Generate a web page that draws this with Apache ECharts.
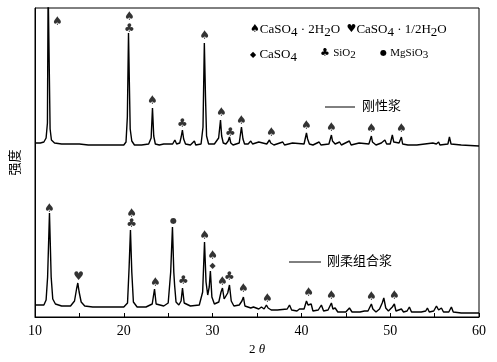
<!DOCTYPE html>
<html><head><meta charset="utf-8">
<script src="https://cdn.jsdelivr.net/npm/echarts@6/dist/echarts.min.js"></script>
<style>html,body{margin:0;padding:0;background:#fff}#c{width:497px;height:362px}</style>
</head><body><div id="c"></div>
<script>
// x-axis tick labels
const xTicks = [10, 20, 30, 40, 50, 60];
// Upper trace: 刚性浆  [2θ, intensity]
const rigid = [[10.0,174],[10.6,174],[11.0,175],[11.25,179],[11.4,194],[11.48,330],[11.6,330],[11.7,188],[11.85,177],[12.2,174],[13,173],[14,173],[15,173],[16,172],[17,172],[18,172],[19,172],[20,172],[20.25,175],[20.4,200],[20.53,284],[20.63,232],[20.72,188],[20.9,176],[21.2,172],[22,172],[22.8,173],[23.08,179],[23.23,209],[23.37,181],[23.55,173],[24,172],[24.5,173],[25.5,173],[25.75,177],[25.95,173],[26.3,174],[26.46,180],[26.6,187],[26.74,178],[26.95,173],[27.5,172],[27.95,176],[28.1,172],[28.7,173],[28.92,190],[29.07,274],[29.2,220],[29.32,181],[29.55,173],[30.2,173],[30.68,179],[30.89,197],[31.02,181],[31.2,174],[31.5,173],[31.75,176],[31.9,180],[32.05,174],[32.3,172],[33.0,174],[33.25,190],[33.42,178],[33.6,173],[34.0,173],[34.3,176],[34.5,173],[35.2,175],[35.4,173],[36.1,173],[36.4,177],[36.55,174],[36.7,176],[36.9,172],[37.9,175],[38.1,172],[39.0,174],[39.2,172],[40.3,173],[40.57,184],[40.7,178],[40.9,173],[41.3,172],[42.0,175],[42.2,172],[43.1,173],[43.38,182],[43.5,176],[43.6,178],[43.8,173],[44.3,175],[44.5,172],[45.4,176],[45.6,172],[46.5,174],[46.7,172],[47.6,173],[47.88,181],[48.0,175],[48.2,177],[48.4,172],[49.0,174],[49.4,177],[49.6,173],[50.0,173],[50.24,182],[50.4,175],[50.6,173],[51.0,174],[51.26,180],[51.4,173],[52,172],[53,172],[54.8,174],[55.0,176],[55.2,173],[55.45,175],[55.6,172],[56.5,173],[56.67,180],[56.85,173],[58,172],[60,171]];
// Lower trace: 刚柔组合浆  [2θ, intensity]
const combined = [[10.0,12],[10.5,12],[11.0,12],[11.25,17],[11.42,40],[11.63,104],[11.82,40],[12.0,18],[12.3,13],[13,11],[14.0,11],[14.45,16],[14.68,28],[14.82,34],[14.97,25],[15.2,15],[15.6,11],[16.5,10],[18,10],[19,10],[20,10],[20.42,14],[20.6,50],[20.75,87],[20.9,45],[21.08,15],[21.5,10],[22.5,10],[23.2,13],[23.46,28],[23.64,13],[24.5,11],[25.0,14],[25.28,45],[25.48,90],[25.63,45],[25.72,32],[25.88,15],[26.2,12],[26.45,16],[26.61,29],[26.8,14],[27.5,11],[28.5,12],[28.88,25],[29.09,75],[29.26,35],[29.45,22],[29.62,30],[29.75,46],[29.92,20],[30.2,13],[30.7,15],[30.95,25],[31.11,29],[31.3,18],[31.5,20],[31.7,24],[31.9,32],[32.1,16],[32.4,11],[33.0,12],[33.3,16],[33.47,20],[33.64,11],[34.3,9],[34.6,10],[35.2,8],[35.5,10],[35.8,8],[36.06,12],[36.25,9],[36.4,11],[36.6,7],[37.3,7],[38.4,8],[38.66,12],[38.9,7],[39.5,6],[39.78,8],[40.0,6],[40.3,8],[40.57,16],[40.75,12],[40.9,10],[41.1,13],[41.3,6],[41.9,7],[42.25,12],[42.5,6],[43.0,7],[43.38,14],[43.55,8],[43.8,9],[44.1,5],[45.0,5],[45.41,9],[45.7,5],[46.6,5],[47.1,6],[47.5,6],[47.88,13],[48.05,8],[48.22,9],[48.4,5],[48.8,8],[49.1,14],[49.28,19],[49.5,9],[49.8,6],[50.24,10],[50.47,13],[50.65,6],[51.26,8],[51.5,5],[51.9,6],[52.16,10],[52.4,5],[53.5,5],[54.0,6],[54.19,9],[54.4,5],[54.9,6],[55.21,11],[55.45,7],[55.77,9],[56.0,5],[56.6,5],[56.89,10],[57.1,5],[58,4],[60,4]];
// Phase markers: [2θ, intensity, glyph]
const phaseMarks = [
  [12.53,295,'♠'],[20.64,300,'♠'],[20.64,288,'♣'],[23.23,216,'♠'],[26.61,193,'♣'],[29.09,281,'♠'],[31.0,204,'♠'],[32.0,184,'♣'],[33.25,196,'♠'],[36.63,184,'♠'],[40.57,191,'♠'],[43.38,189,'♠'],[47.88,188,'♠'],[51.26,188,'♠'],
  [11.63,108,'♠'],[14.9,40,'♥'],[20.87,103,'♠'],[20.87,93,'♣'],[23.57,34,'♠'],[25.6,96,'●'],[26.72,36,'♣'],[29.09,81,'♠'],[29.99,61,'♠'],[29.99,51,'◆'],[31.11,35,'♠'],[31.9,40,'♣'],[33.47,28,'♠'],[36.18,18,'♠'],[40.8,24,'♠'],[43.38,21,'♠'],[47.88,20,'♠'],[50.47,21,'♠']
];
const seriesNames = ['刚性浆', '刚柔组合浆'];

const chart = echarts.init(document.getElementById('c'), null, {renderer:'canvas'});
const serif = 'Liberation Serif';
const cjk = 'Noto Sans CJK SC';
const glyphStyle = {
  big: {fontFamily: 'DejaVu Sans', fontSize: 12, color: '#000'},
  dot: {fontFamily: 'DejaVu Sans', fontSize: 8, color: '#000'},
  dia: {fontFamily: 'DejaVu Sans', fontSize: 8, color: '#000'}
};
const glyphKey = g => g === '●' ? 'dot' : (g === '◆' ? 'dia' : 'big');
const legRich = {
  n: {fontFamily: serif, fontSize: 13, color: '#000', lineHeight: 16},
  s: {fontFamily: serif, fontSize: 13, color: '#000', lineHeight: 16, padding: [6,0,0,0]},
  m: {fontFamily: serif, fontSize: 11, color: '#000', lineHeight: 16},
  ms: {fontFamily: serif, fontSize: 11, color: '#000', lineHeight: 16, padding: [5,0,0,0]},
  g: {fontFamily: 'DejaVu Sans', fontSize: 11, color: '#000', lineHeight: 16},
  gs: {fontFamily: 'DejaVu Sans', fontSize: 8, color: '#000', lineHeight: 16}
};
chart.setOption({
  animation: false,
  backgroundColor: '#fff',
  grid: {left: 35, right: 18, top: 8, bottom: 45, show: true, borderColor: '#000', borderWidth: 1},
  xAxis: {
    type: 'value', min: 10, max: 60, interval: 5,
    name: '{a|2}{b| θ}', nameLocation: 'middle', nameGap: 19,
    nameTextStyle: {rich: {a: {fontFamily: serif, fontSize: 13, color: '#000'}, b: {fontFamily: serif, fontSize: 13, fontStyle: 'italic', color: '#000'}}},
    axisLine: {lineStyle: {color: '#000', width: 1}},
    axisTick: {inside: true, length: 4, lineStyle: {color: '#000', width: 1}},
    axisLabel: {fontFamily: serif, fontSize: 14, color: '#000', margin: 7,
      formatter: v => xTicks.indexOf(v) >= 0 ? String(v) : ''},
    splitLine: {show: false}
  },
  yAxis: {
    type: 'value', min: 0, max: 309,
    name: '强度', nameLocation: 'middle', nameGap: 14,
    nameTextStyle: {fontFamily: cjk, fontSize: 13, color: '#000'},
    axisLine: {show: true, lineStyle: {color: '#000', width: 1}},
    axisTick: {show: false}, axisLabel: {show: false}, splitLine: {show: false}
  },
  series: [
    {name: seriesNames[0], type: 'line', data: rigid, showSymbol: false, symbol: 'none', lineStyle: {color: '#000', width: 1.4}, silent: true},
    {name: seriesNames[1], type: 'line', data: combined, showSymbol: false, symbol: 'none', lineStyle: {color: '#000', width: 1.4}, silent: true},
    {type: 'scatter', symbol: 'circle', symbolSize: 1, itemStyle: {color: 'rgba(0,0,0,0)'}, silent: true, z: 5,
      data: phaseMarks.map(m => ({value: [m[0], m[1]], name: m[2]})),
      label: {show: true, position: 'inside', formatter: p => '{' + glyphKey(p.name) + '|' + p.name + '}', rich: glyphStyle}}
  ],
  graphic: [
    {type: 'text', left: 250, top: 20, style: {rich: legRich,
      text: '{g|♠}{n|CaSO}{s|4}{n| · 2H}{s|2}{n|O  }{g|♥}{n|CaSO}{s|4}{n| · 1/2H}{s|2}{n|O}'}},
    {type: 'text', left: 250, top: 45, style: {rich: legRich, text: '{gs|◆}{n| CaSO}{s|4}'}},
    {type: 'text', left: 320, top: 45, style: {rich: legRich, text: '{g|♣} {m|SiO}{ms|2}'}},
    {type: 'text', left: 380, top: 45, style: {rich: legRich, text: '{gs|●} {m|MgSiO}{ms|3}'}},
    {type: 'line', shape: {x1: 325, y1: 107, x2: 355, y2: 107}, style: {stroke: '#000', lineWidth: 1}},
    {type: 'text', left: 362, top: 99, style: {text: seriesNames[0], fontFamily: cjk, fontSize: 13, fill: '#000'}},
    {type: 'line', shape: {x1: 289, y1: 262, x2: 321, y2: 262}, style: {stroke: '#000', lineWidth: 1}},
    {type: 'text', left: 327, top: 254, style: {text: seriesNames[1], fontFamily: cjk, fontSize: 13, fill: '#000'}}
  ]
});
</script></body></html>
